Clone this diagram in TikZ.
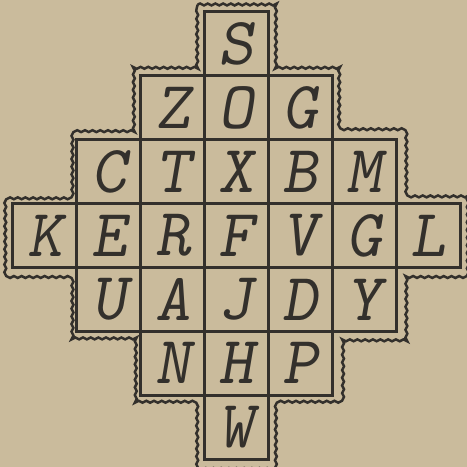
\documentclass[tikz,border=0pt]{standalone}
\usetikzlibrary{positioning,decorations.pathmorphing}
\definecolor{paper}{HTML}{CABB9C}
\definecolor{ink}{HTML}{33302C}

\begin{document}
\begin{tikzpicture}[node distance=0pt, every node/.style={minimum size=1cm,inner sep=0pt,outer sep=0pt,draw=ink,line width=1.2pt,text=ink,font=\fontsize{30}{30}\selectfont\ttfamily\slshape}]
    \fill[paper] (-0.2,0.18) rectangle (7.1,-7.12);
    \useasboundingbox (-0.2,0.18) rectangle (7.1,-7.12);
    % middle row
    \node (K) at (0.5,-3.5) {K};
    \node (E) [right=of K] {E};
    \node (R) [right=of E] {R};
    \node (F) [right=of R] {F};
    \node (V) [right=of F] {V};
    \node (Gr) [right=of V] {G};
    \node (L) [right=of Gr] {L};
    % rows above
    \node (C) [above=of E] {C};
    \node (T) [above=of R] {T};
    \node (X) [above=of F] {X};
    \node (B) [above=of V] {B};
    \node (M) [above=of Gr] {M};
    \node (Z) [above=of T] {Z};
    \node (O) [above=of X] {O};
    \node (Gt) [above=of B] {G};
    \node (S) [above=of O] {S};
    % rows below
    \node (U) [below=of E] {U};
    \node (A) [below=of R] {A};
    \node (J) [below=of F] {J};
    \node (D) [below=of V] {D};
    \node (Y) [below=of Gr] {Y};
    \node (N) [below=of A] {N};
    \node (H) [below=of J] {H};
    \node (P) [below=of D] {P};
    \node (W) [below=of H] {W};
    % stepped frame
    \draw[ink,line width=1.5pt] (3,0) -- (4,0) -- (4,-1) -- (5,-1) -- (5,-2) -- (6,-2) -- (6,-3) -- (7,-3) -- (7,-4) -- (6,-4) -- (6,-5) -- (5,-5) -- (5,-6) -- (4,-6) -- (4,-7) -- (3,-7) -- (3,-6) -- (2,-6) -- (2,-5) -- (1,-5) -- (1,-4) -- (0,-4) -- (0,-3) -- (1,-3) -- (1,-2) -- (2,-2) -- (2,-1) -- (3,-1) -- cycle;
    \draw[ink,line width=1.1pt,decorate,decoration={snake,segment length=1.2mm,amplitude=0.15mm}]
      (2.89,0.11) -- (4.11,0.11) -- (4.11,-0.89) -- (5.11,-0.89) -- (5.11,-1.89) -- (6.11,-1.89) -- (6.11,-2.89) -- (7.11,-2.89) -- (7.11,-4.11) -- (6.11,-4.11) -- (6.11,-5.11) -- (5.11,-5.11) -- (5.11,-6.11) -- (4.11,-6.11) -- (4.11,-7.11) -- (2.89,-7.11) -- (2.89,-6.11) -- (1.89,-6.11) -- (1.89,-5.11) -- (0.89,-5.11) -- (0.89,-4.11) -- (-0.11,-4.11) -- (-0.11,-2.89) -- (0.89,-2.89) -- (0.89,-1.89) -- (1.89,-1.89) -- (1.89,-0.89) -- (2.89,-0.89) -- cycle;
  \end{tikzpicture}
\end{document}
